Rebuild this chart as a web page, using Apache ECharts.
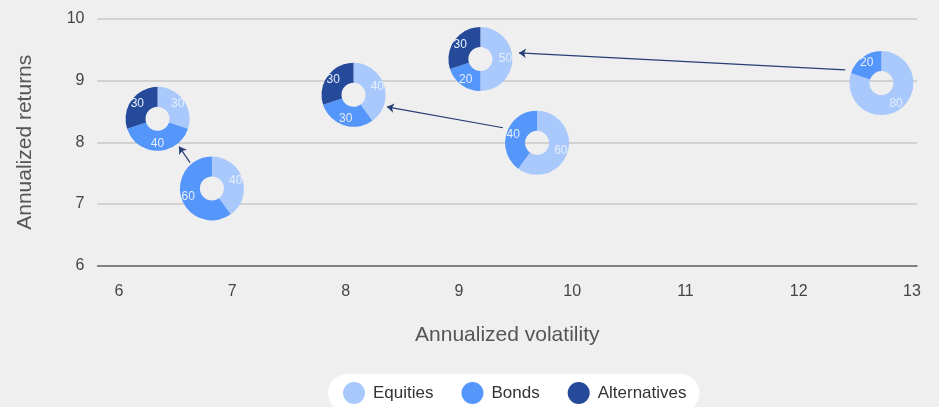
<!DOCTYPE html>
<html>
<head>
<meta charset="utf-8">
<script src="https://cdn.jsdelivr.net/npm/echarts@6/dist/echarts.min.js"></script>
<style>
  html, body { margin: 0; padding: 0; background: #efefef; }
  #main { width: 939px; height: 407px; }
</style>
</head>
<body>
<div id="main"></div>
<script>
// portfolio positions (x = volatility, y = return)
const volatility = [6.34, 6.82, 8.07, 9.19, 9.69, 12.73];
const returns = [8.38, 7.25, 8.77, 9.35, 7.99, 8.96];
// allocation per portfolio
const equities = [30, 40, 40, 50, 60, 80];
const bonds = [40, 60, 30, 20, 40, 20];
const alternatives = [30, 0, 30, 30, 0, 0];

const assetNames = ['Equities', 'Bonds', 'Alternatives'];
const assetColors = ['#a9c8fc', '#5596fa', '#254a9a'];

const xTicks = [6, 7, 8, 9, 10, 11, 12, 13];

// arrows: [from, to] in data coords
const arrowFrom = [[6.627, 7.668], [9.389, 8.235], [12.41, 9.174]];
const arrowTo = [[6.53, 7.93], [8.365, 8.575], [9.53, 9.45]];

const font = 'Liberation Sans, Arial, sans-serif';
let chart = echarts.init(document.getElementById('main'));

let arrowSeries = {
  type: 'lines',
  coordinateSystem: 'cartesian2d',
  silent: true,
  symbol: ['none', 'arrow'],
  symbolSize: 7,
  lineStyle: { color: '#263d75', width: 1.2, opacity: 1 },
  data: arrowFrom.map((p, i) => ({ coords: [p, arrowTo[i]] })),
  z: 5
};

chart.setOption({
  backgroundColor: '#efefef',
  animation: false,
  textStyle: { fontFamily: font },
  grid: { left: 97.5, right: 22, top: 19, bottom: 141.5 },
  xAxis: {
    type: 'value',
    min: 5.81,
    max: 13.044,
    name: 'Annualized volatility',
    nameLocation: 'middle',
    nameGap: 59,
    nameTextStyle: { fontSize: 21, color: '#555' },
    axisLine: { show: true, lineStyle: { color: '#666', width: 1.5 } },
    axisTick: { show: false },
    splitLine: { show: false },
    axisLabel: { customValues: xTicks, fontSize: 16, color: '#444', margin: 18 }
  },
  yAxis: {
    type: 'value',
    min: 6,
    max: 10,
    interval: 1,
    name: 'Annualized returns',
    nameLocation: 'middle',
    nameGap: 62,
    nameRotate: 90,
    nameTextStyle: { fontSize: 21, color: '#555' },
    axisLine: { show: false },
    axisTick: { show: false },
    splitLine: { lineStyle: { color: '#c8c8c8', width: 1.5 } },
    axisLabel: { fontSize: 16, color: '#444', margin: 13 }
  },
  legend: {
    data: assetNames,
    left: 328,
    top: 374,
    padding: [8, 13, 8, 15],
    backgroundColor: '#fff',
    borderRadius: 20,
    icon: 'circle',
    itemWidth: 22,
    itemHeight: 22,
    itemGap: 28,
    textStyle: { fontSize: 17, color: '#333', padding: [0, 0, 0, 3] }
  },
  series: [arrowSeries]
});

// place each donut at its (volatility, return) point
let pies = volatility.map((v, i) => {
  let c = chart.convertToPixel({ xAxisIndex: 0, yAxisIndex: 0 }, [v, returns[i]]);
  let vals = [equities[i], bonds[i], alternatives[i]];
  let data = [];
  vals.forEach((val, k) => {
    if (val > 0) data.push({ name: assetNames[k], value: val, itemStyle: { color: assetColors[k] } });
  });
  return {
    type: 'pie',
    center: c,
    radius: [12, 32],
    startAngle: 90,
    clockwise: true,
    silent: true,
    emphasis: { disabled: true },
    label: { show: true, position: 'inside', formatter: '{c}', color: '#e6eefc', fontSize: 12 },
    labelLine: { show: false },
    data: data,
    z: 3
  };
});

chart.setOption({ series: [arrowSeries].concat(pies) });
</script>
</body>
</html>
